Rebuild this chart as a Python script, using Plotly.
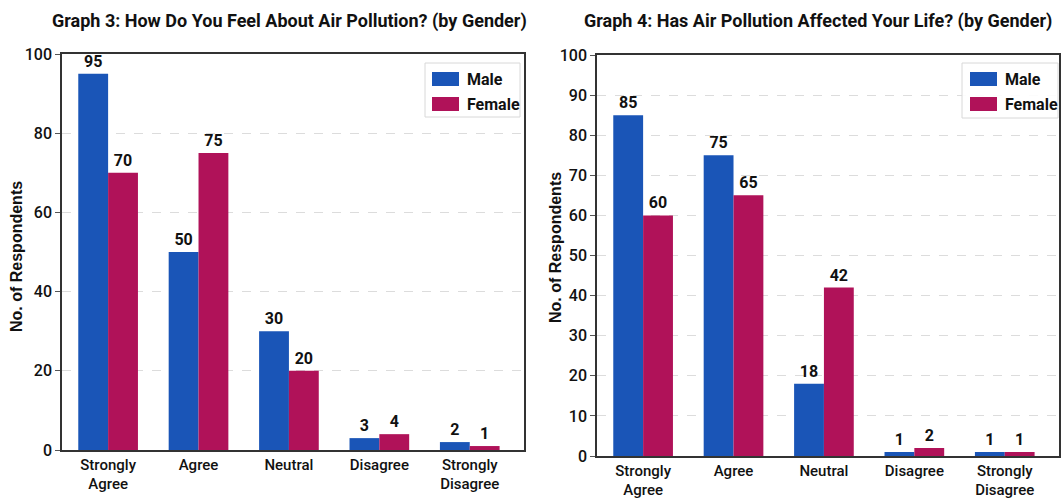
import plotly.graph_objects as go

# Survey responses by gender
categories = ["Strongly<br>Agree", "Agree", "Neutral", "Disagree", "Strongly<br>Disagree"]

feel_male = [95, 50, 30, 3, 2]
feel_female = [70, 75, 20, 4, 1]

affected_male = [85, 75, 18, 1, 1]
affected_female = [60, 65, 42, 2, 1]

title_left = "Graph 3: How Do You Feel About Air Pollution? (by Gender)"
title_right = "Graph 4: Has Air Pollution Affected Your Life? (by Gender)"
y_title = "No. of Respondents"

MALE = "#1a55b7"
FEMALE = "#b01259"
NARROW = "Roboto, Liberation Sans, sans-serif"
W, H = 1061, 499

fig = go.Figure()


def add_pair(male, female, xa, ya):
    for name, vals, col, off in (("Male", male, MALE, -0.33), ("Female", female, FEMALE, 0.0)):
        fig.add_trace(go.Bar(
            x=list(range(len(categories))), y=vals, name=name,
            marker=dict(color=col, line=dict(width=0)),
            width=0.33, offset=off,
            text=[str(v) for v in vals], textposition="outside",
            textfont=dict(family=NARROW, size=16, color="#111", weight="bold"),
            cliponaxis=False, xaxis=xa, yaxis=ya, showlegend=False,
        ))


add_pair(feel_male, feel_female, "x", "y")
add_pair(affected_male, affected_female, "x2", "y2")

axis_common = dict(
    showline=True, linecolor="#333", linewidth=1.5, mirror=True, automargin=False,
)
xcommon = dict(
    tickmode="array", tickvals=list(range(len(categories))), ticktext=categories,
    range=[-0.51, 4.6], ticks="", showgrid=False,
    tickfont=dict(family=NARROW, size=15, color="#111", weight=500),
    **axis_common,
)
ycommon = dict(
    range=[0, 100], ticks="outside", ticklen=5, tickcolor="#555",
    showgrid=True, gridcolor="#dcdcdc", griddash="dash", gridwidth=1,
    zeroline=False,
    tickfont=dict(family=NARROW, size=16, color="#111", weight=500),
    **axis_common,
)

fig.update_layout(
    width=W, height=H,
    margin=dict(l=0, r=0, t=0, b=0, autoexpand=False),
    paper_bgcolor="white", plot_bgcolor="white",
    barmode="overlay",
    xaxis=dict(domain=[62 / W, 524 / W], anchor="y", **xcommon),
    yaxis=dict(domain=[1 - 450 / H, 1 - 54 / H], anchor="x", dtick=20, **ycommon),
    xaxis2=dict(domain=[597 / W, 1059 / W], anchor="y2", **xcommon),
    yaxis2=dict(domain=[1 - 456 / H, 1 - 55 / H], anchor="x2", dtick=10, **ycommon),
)

for text, xc in ((title_left, 289), (title_right, 818)):
    fig.add_annotation(text=f"<b>{text}</b>", xref="paper", yref="paper",
                       x=xc / W, y=1 - 21 / H, xanchor="center", yanchor="middle",
                       showarrow=False, font=dict(family=NARROW, size=18, color="#111"))

for xp, yp in ((16, 257), (555, 248)):
    fig.add_annotation(text=f"<b>{y_title}</b>", xref="paper", yref="paper",
                       x=xp / W, y=1 - yp / H, textangle=-90, showarrow=False,
                       xanchor="center", yanchor="middle",
                       font=dict(family="Liberation Sans, Arial, sans-serif", size=16, color="#111"))


# Legend boxes with wide colour swatches, laid out in pixels
def legend_box(x0, y0, x1, y1, sw_x, male_y, fem_y, txt_x):
    px = lambda v: v / W
    py = lambda v: 1 - v / H
    fig.add_shape(type="rect", xref="paper", yref="paper",
                  x0=px(x0), x1=px(x1), y0=py(y1), y1=py(y0),
                  line=dict(color="#d8d8d8", width=1), fillcolor="rgba(255,255,255,0.9)")
    for col, yy, label in ((MALE, male_y, "Male"), (FEMALE, fem_y, "Female")):
        fig.add_shape(type="rect", xref="paper", yref="paper",
                      x0=px(sw_x), x1=px(sw_x + 27), y0=py(yy + 14), y1=py(yy),
                      line=dict(width=0), fillcolor=col)
        fig.add_annotation(text=f"<b>{label}</b>", xref="paper", yref="paper",
                           x=px(txt_x), y=py(yy + 7), xanchor="left", yanchor="middle",
                           showarrow=False, font=dict(family=NARROW, size=16, color="#111"))


legend_box(425, 63, 520, 117, 432, 72, 97, 465)
legend_box(962, 63, 1058, 118, 970, 72, 97, 1003)

fig.write_html("out.html")
